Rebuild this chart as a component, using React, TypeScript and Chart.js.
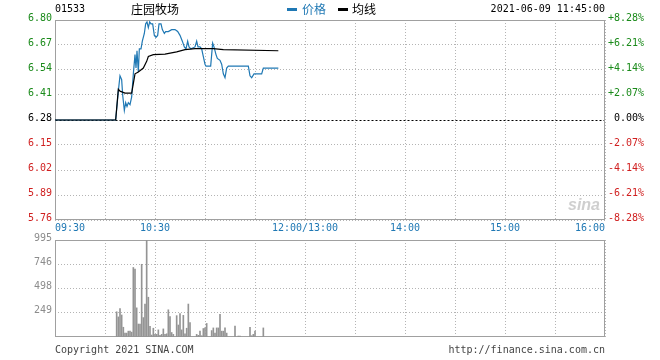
import React, { useEffect, useRef } from 'react';
import { Chart, registerables } from 'chart.js';

Chart.register(...registerables);

const stockCode = '01533';
const stockName = '庄园牧场';
const legendPrice = '价格';
const legendAvg = '均线';
const timestamp = '2021-06-09 11:45:00';
const copyrightText = 'Copyright 2021 SINA.COM';
const siteText = 'http://finance.sina.com.cn';
const prevClose = 6.28;

const priceTicks = [5.76, 5.89, 6.02, 6.15, 6.28, 6.41, 6.54, 6.67, 6.8];
const gridMinutes = [0, 30, 60, 90, 120, 150, 180, 210, 240, 270, 300, 330];
const timeLabelMinutes = [0, 60, 150, 210, 270, 330];
const timeLabels = ['09:30', '10:30', '12:00/13:00', '14:00', '15:00', '16:00'];

const priceMinutes = [0, 36.4, 38, 39, 40, 40.6, 41.6, 42.4, 43.2, 44, 45, 46, 47, 48, 48.6, 49.2, 50, 50.6, 51.6, 52.4, 53.6, 54.4, 55.2, 56, 56.8, 57.6, 58.6, 59.6, 60.6, 61.6, 62.4, 63.6, 64.4, 65.6, 66.4, 68, 70, 72, 73.6, 75, 76.4, 77.6, 78.6, 79.6, 80.4, 81.6, 84, 85, 85.8, 87, 88, 89, 90, 90.6, 93.4, 94, 94.6, 95.4, 96.6, 97.4, 99, 100, 101, 102, 103, 104, 116, 117, 118, 119.4, 124, 125, 134];
const priceValues = [6.28, 6.28, 6.43, 6.51, 6.49, 6.41, 6.33, 6.37, 6.35, 6.37, 6.36, 6.40, 6.52, 6.62, 6.55, 6.64, 6.53, 6.65, 6.65, 6.69, 6.73, 6.78, 6.79, 6.76, 6.79, 6.78, 6.78, 6.72, 6.71, 6.72, 6.78, 6.78, 6.75, 6.73, 6.74, 6.74, 6.75, 6.75, 6.74, 6.72, 6.69, 6.66, 6.65, 6.69, 6.66, 6.65, 6.66, 6.69, 6.66, 6.66, 6.65, 6.61, 6.57, 6.56, 6.56, 6.62, 6.68, 6.66, 6.62, 6.60, 6.59, 6.57, 6.52, 6.50, 6.55, 6.56, 6.56, 6.51, 6.50, 6.52, 6.52, 6.55, 6.55];

const avgMinutes = [0, 36.4, 38, 39, 42, 46, 48, 50, 53, 55, 56, 59, 66, 73, 78, 84, 95, 101, 134];
const avgValues = [6.28, 6.28, 6.44, 6.43, 6.42, 6.42, 6.52, 6.53, 6.55, 6.585, 6.61, 6.62, 6.623, 6.634, 6.646, 6.651, 6.651, 6.646, 6.64];

const volMinutes = [37, 38, 39, 40, 41, 42, 43, 44, 45, 46, 47, 48, 49, 50, 51, 52, 53, 54, 55, 56, 57, 58, 59, 60, 61, 62, 63, 64, 65, 66, 67, 68, 69, 70, 71, 73, 74, 75, 76, 77, 78, 79, 80, 81, 85, 86, 87, 88, 89, 90, 91, 94, 95, 96, 97, 98, 99, 100, 101, 102, 103, 108, 110, 111, 117, 118, 119, 120, 125];
const volValues = [259, 206, 292, 226, 100, 40, 40, 60, 60, 50, 713, 697, 299, 133, 133, 746, 199, 338, 995, 408, 109, 20, 90, 27, 27, 73, 17, 27, 83, 27, 33, 279, 209, 46, 27, 219, 123, 239, 73, 222, 33, 90, 338, 149, 27, 17, 60, 13, 87, 93, 139, 66, 93, 40, 93, 93, 232, 60, 60, 93, 40, 113, 10, 10, 100, 13, 27, 60, 93];
const volTicks = [249, 498, 746, 995];

const PRICE_BLUE = '#1f78b4';
const GREEN = '#1a8a1a';
const RED = '#d01f1f';
const GRID = '#b4b4b4';
const FRAME = '#a0a0a0';
const MONO = "'DejaVu Sans Mono', monospace";
const CJK = "'Noto Sans CJK SC', sans-serif";

const framePlugin = (refValue: number | null) => ({
  id: 'frame',
  beforeDatasetsDraw(chart: any) {
    const { ctx, chartArea } = chart;
    const l = Math.round(chartArea.left) + 0.5;
    const r = Math.round(chartArea.right) - 0.5;
    const t = Math.round(chartArea.top) + 0.5;
    const b = Math.round(chartArea.bottom) - 0.5;
    ctx.save();
    if (refValue !== null) {
      const y = Math.round(chart.scales.y.getPixelForValue(refValue)) + 0.5;
      ctx.strokeStyle = '#000';
      ctx.lineWidth = 1;
      ctx.setLineDash([2, 2]);
      ctx.beginPath();
      ctx.moveTo(l, y);
      ctx.lineTo(r, y);
      ctx.stroke();
    }
    ctx.setLineDash([]);
    ctx.strokeStyle = FRAME;
    ctx.lineWidth = 1;
    ctx.strokeRect(l, t, r - l, b - t);
    ctx.restore();
  },
});

const tickColor = (v: number) => (Math.abs(v - prevClose) < 1e-6 ? '#000' : v > prevClose ? GREEN : RED);

export default function App() {
  const topRef = useRef<HTMLCanvasElement | null>(null);
  const botRef = useRef<HTMLCanvasElement | null>(null);

  useEffect(() => {
    const font = { family: 'DejaVu Sans Mono', size: 10 };
    const top = new Chart(topRef.current as HTMLCanvasElement, {
      type: 'line',
      data: {
        datasets: [
          {
            label: legendAvg,
            data: avgMinutes.map((m, i) => ({ x: m, y: avgValues[i] })),
            borderColor: '#000',
            borderWidth: 1.2,
            pointRadius: 0,
            tension: 0,
          },
          {
            label: legendPrice,
            data: priceMinutes.map((m, i) => ({ x: m, y: priceValues[i] })),
            borderColor: PRICE_BLUE,
            borderWidth: 1.2,
            pointRadius: 0,
            tension: 0,
          },
        ],
      },
      options: {
        responsive: false,
        animation: false,
        events: [],
        layout: { padding: { top: 20, left: 0, right: 0, bottom: 0 } },
        plugins: { legend: { display: false }, tooltip: { enabled: false } },
        scales: {
          x: {
            type: 'linear',
            min: 0,
            max: 330,
            afterBuildTicks: (s: any) => {
              s.ticks = gridMinutes.map((v) => ({ value: v }));
            },
            afterFit: (s: any) => {
              s.height = 16;
            },
            ticks: {
              autoSkip: false,
              maxRotation: 0,
              align: 'inner',
              padding: 2,
              color: '#1f78b4',
              font,
              callback: (v: any) => {
                const i = timeLabelMinutes.indexOf(Number(v));
                return i >= 0 ? timeLabels[i] : '';
              },
            },
            grid: { color: GRID, drawTicks: false },
            border: { display: false, dash: [1, 2] },
          },
          y: {
            min: 5.76,
            max: 6.8,
            position: 'left',
            afterBuildTicks: (s: any) => {
              s.ticks = priceTicks.map((v) => ({ value: v }));
            },
            afterFit: (s: any) => {
              s.width = 55;
            },
            ticks: {
              padding: 3,
              labelOffset: -2,
              font,
              color: (c: any) => tickColor(c.tick.value),
              callback: (v: any) => Number(v).toFixed(2),
            },
            grid: {
              color: (c: any) => (c.tick && Math.abs(c.tick.value - prevClose) < 1e-6 ? 'rgba(0,0,0,0)' : GRID),
              drawTicks: false,
            },
            border: { display: false, dash: [1, 2] },
          },
          y2: {
            min: 5.76,
            max: 6.8,
            position: 'right',
            afterBuildTicks: (s: any) => {
              s.ticks = priceTicks.map((v) => ({ value: v }));
            },
            afterFit: (s: any) => {
              s.width = 55;
            },
            ticks: {
              padding: 3,
              labelOffset: -2,
              font,
              color: (c: any) => tickColor(c.tick.value),
              callback: (v: any) => {
                const p = ((Number(v) - prevClose) / prevClose) * 100;
                if (Math.abs(p) < 0.005) return ' 0.00%';
                return (p > 0 ? '+' : '') + p.toFixed(2) + '%';
              },
            },
            grid: { drawOnChartArea: false, drawTicks: false },
            border: { display: false },
          },
        },
      } as any,
      plugins: [framePlugin(prevClose)],
    });

    const bot = new Chart(botRef.current as HTMLCanvasElement, {
      type: 'bar',
      data: {
        datasets: [
          {
            label: 'volume',
            data: volMinutes.map((m, i) => ({ x: m, y: volValues[i] })),
            backgroundColor: '#949494',
            barThickness: 1,
            grouped: false,
          } as any,
        ],
      },
      options: {
        responsive: false,
        animation: false,
        events: [],
        layout: { padding: { top: 10, left: 0, right: 55, bottom: 6 } },
        plugins: { legend: { display: false }, tooltip: { enabled: false } },
        scales: {
          x: {
            type: 'linear',
            min: 0,
            max: 330,
            offset: false,
            afterBuildTicks: (s: any) => {
              s.ticks = gridMinutes.map((v) => ({ value: v }));
            },
            afterFit: (s: any) => {
              s.height = 0;
            },
            ticks: { display: false },
            grid: { color: GRID, drawTicks: false, offset: false },
            border: { display: false, dash: [1, 2] },
          },
          y: {
            min: 0,
            max: 995,
            afterBuildTicks: (s: any) => {
              s.ticks = volTicks.map((v) => ({ value: v }));
            },
            afterFit: (s: any) => {
              s.width = 55;
            },
            ticks: {
              padding: 3,
              labelOffset: -2,
              font,
              color: '#8c8c8c',
              callback: (v: any) => String(v),
            },
            grid: { color: GRID, drawTicks: false },
            border: { display: false, dash: [1, 2] },
          },
        },
      } as any,
      plugins: [framePlugin(null)],
    });

    return () => {
      top.destroy();
      bot.destroy();
    };
  }, []);

  const abs = (extra: React.CSSProperties): React.CSSProperties => ({
    position: 'absolute',
    whiteSpace: 'nowrap',
    ...extra,
  });

  return (
    <div
      style={{
        position: 'fixed',
        left: 0,
        top: 0,
        width: 660,
        height: 360,
        background: '#fff',
        overflow: 'hidden',
      }}
    >
      <canvas ref={topRef} width={660} height={236} style={{ position: 'absolute', left: 0, top: 0 }} />
      <canvas ref={botRef} width={660} height={116} style={{ position: 'absolute', left: 0, top: 230 }} />

      <span style={abs({ left: 55, top: 2, fontFamily: MONO, fontSize: 10, lineHeight: '14px', color: '#000' })}>{stockCode}</span>
      <span style={abs({ left: 131, top: 1, fontFamily: CJK, fontSize: 12, lineHeight: '16px', color: '#000' })}>{stockName}</span>
      <span style={abs({ left: 287, top: 8, width: 10, height: 3, background: PRICE_BLUE })} />
      <span style={abs({ left: 302, top: 1, fontFamily: CJK, fontSize: 12, lineHeight: '16px', color: PRICE_BLUE })}>{legendPrice}</span>
      <span style={abs({ left: 338, top: 8, width: 10, height: 3, background: '#000' })} />
      <span style={abs({ left: 352, top: 1, fontFamily: CJK, fontSize: 12, lineHeight: '16px', color: '#000' })}>{legendAvg}</span>
      <span style={abs({ right: 55, top: 2, fontFamily: MONO, fontSize: 10, lineHeight: '14px', color: '#000', textAlign: 'right' })}>{timestamp}</span>

      <span
        style={abs({
          left: 568,
          top: 196,
          fontFamily: "'Liberation Sans', sans-serif",
          fontSize: 16,
          fontStyle: 'italic',
          fontWeight: 'bold',
          lineHeight: '18px',
          color: '#cfcfcf',
        })}
      >
        sina
      </span>

      <span style={abs({ left: 55, top: 343, fontFamily: MONO, fontSize: 10, lineHeight: '14px', color: '#444' })}>{copyrightText}</span>
      <span style={abs({ right: 55, top: 343, fontFamily: MONO, fontSize: 10, lineHeight: '14px', color: '#444', textAlign: 'right' })}>{siteText}</span>
    </div>
  );
}
